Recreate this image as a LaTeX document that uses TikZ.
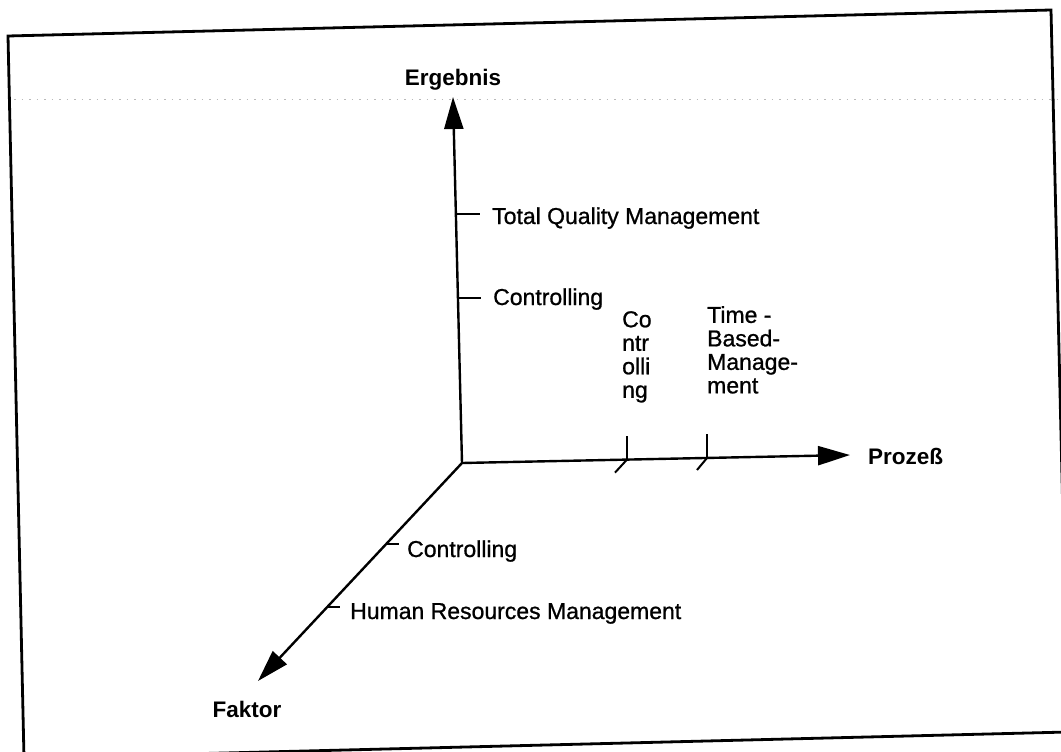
\documentclass[tikz,border=0pt]{standalone}
\usepackage{fontspec}
\setmainfont{Liberation Sans}
\newfontfamily\scanfont{Liberation Sans}[FakeBold=0.9]
\usetikzlibrary{arrows.meta}
\begin{document}
\begin{tikzpicture}[x=1pt,y=-1pt,
  frame/.style={line width=2.8pt, line join=miter},
  axis/.style={line width=2.4pt, -{Triangle[length=32pt,width=19pt]}},
  tick/.style={line width=2pt},
  lbl/.style={inner sep=0pt, font=\scanfont\fontsize{23}{23.5}\selectfont},
  stack/.style={lbl, align=left, anchor=north west},
  axlbl/.style={inner sep=0pt, font=\fontsize{22.5}{24}\selectfont\bfseries, anchor=base},
  scanline/.style={gray!55, line width=1pt, dash pattern=on 1.5pt off 6pt}
]
\useasboundingbox (0,0) rectangle (1061,752);
% frame (slightly rotated scan)
\draw[frame] (8,36) -- (1051,10) -- (1068,732) -- (24,758) -- cycle;
% faint scanner line
\draw[scanline] (14,100) -- (1061,100);

% axes
\coordinate (O) at (462,463);
\coordinate (E) at (453,97);
\coordinate (P) at (850,455);
\coordinate (F) at (258,681);
\draw[axis] (O) -- (E);
\draw[axis] (O) -- (P);
\draw[axis] (O) -- (F);

% axis labels
\node[axlbl] (ergebnis) at (453,85) {Ergebnis};
\node[axlbl, anchor=base west] (prozess) at (868,464) {Prozeß};
\node[axlbl] (faktor) at (247,717) {Faktor};

% ticks on Ergebnis axis
\coordinate (e1) at (456,214);
\coordinate (e2) at (458,298);
\draw[tick] (e1) -- ++(24,0);
\draw[tick] (e2) -- ++(23,0);
\node[lbl, anchor=base west] (tqm) at (492,224) {Total Quality Management};
\node[lbl, anchor=base west] (ctrlE) at (493,305) {Controlling};

% ticks on Prozess axis
\coordinate (p1) at (627,459.6);
\coordinate (p2) at (707,458);
\draw[tick] (p1) -- ++(0,-24);
\draw[tick] (p1) -- ++(-12,13);
\draw[tick] (p2) -- ++(0,-24);
\draw[tick] (p2) -- ++(-10,12);
\node[stack] (ctrlP) at (622,311) {Co\\ntr\\olli\\ng};
\node[stack] (tbm) at (707,306) {Time -\\Based-\\Manage-\\ment};

% ticks on Faktor axis
\coordinate (f1) at (386,544);
\coordinate (f2) at (327,607);
\draw[tick] (f1) -- ++(13,0);
\draw[tick] (f2) -- ++(13,0);
\node[lbl, anchor=base west] (ctrlF) at (407,557) {Controlling};
\node[lbl, anchor=base west] (hrm) at (350,619) {Human Resources Management};
\end{tikzpicture}
\end{document}
